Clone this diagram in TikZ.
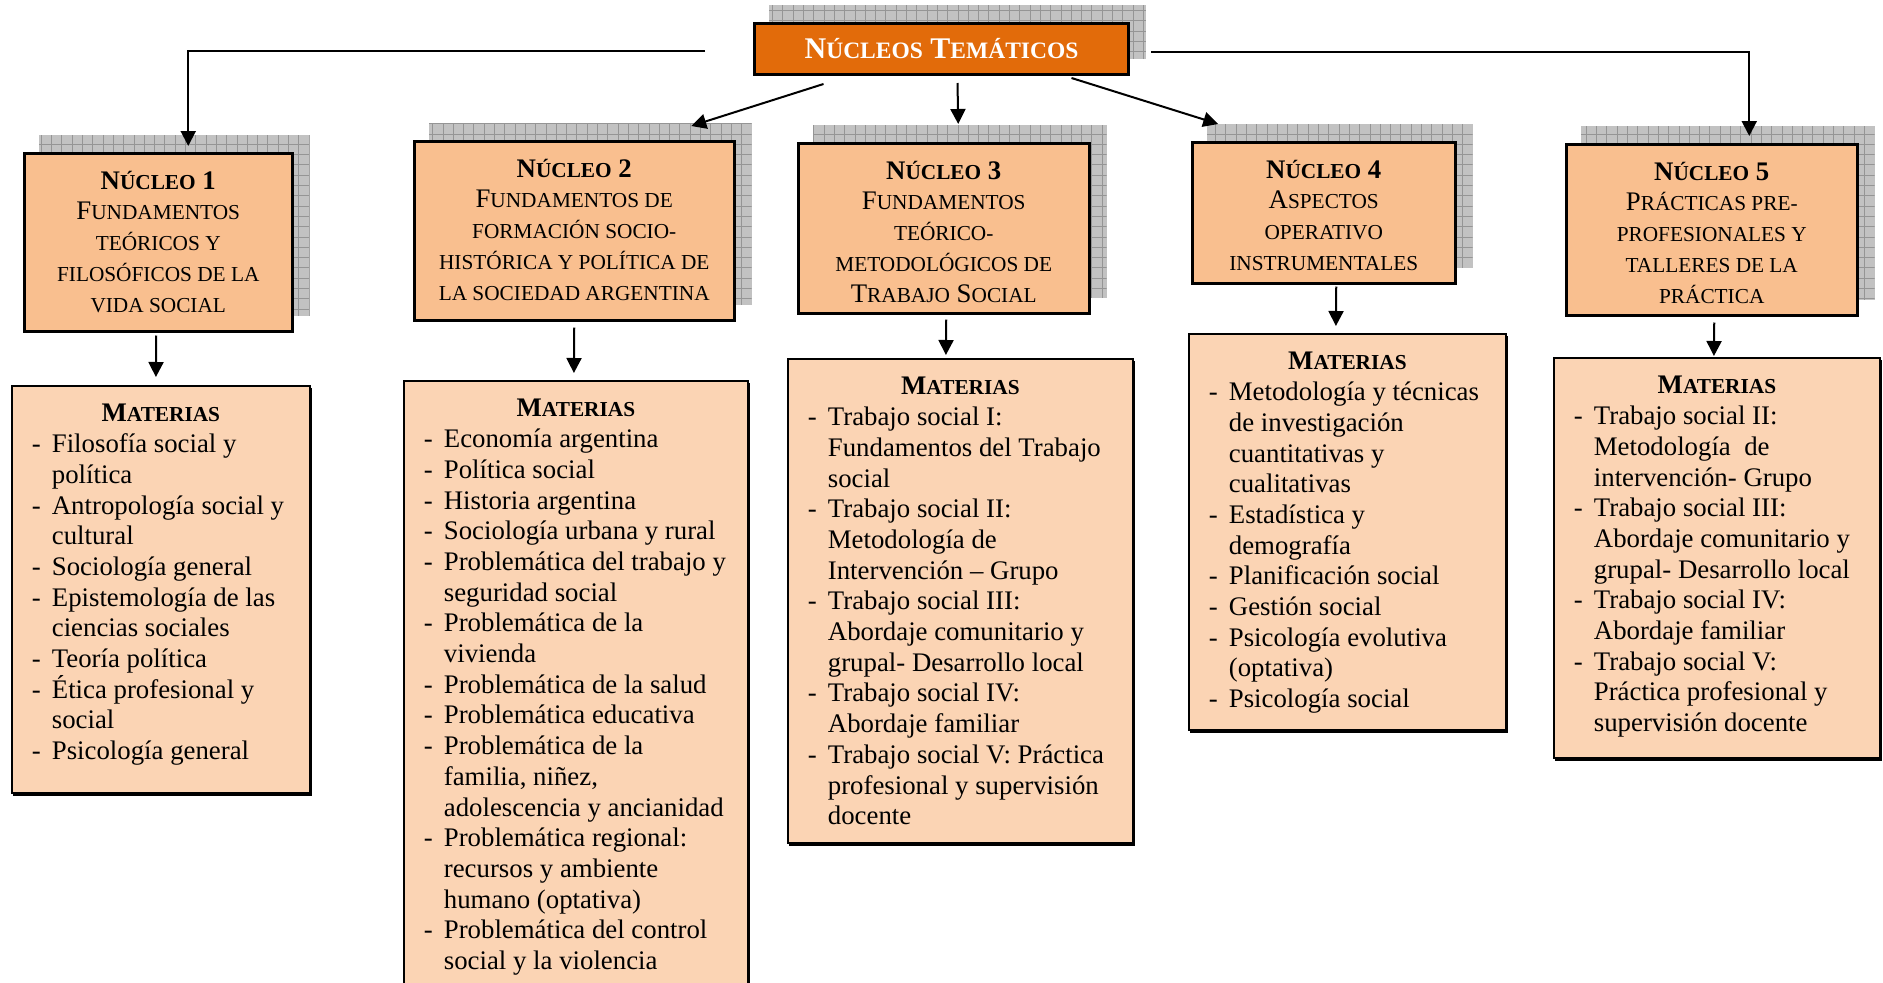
\documentclass[tikz,border=0pt]{standalone}
\usepackage{fontspec}
\setmainfont{Liberation Serif}
\usetikzlibrary{arrows.meta,backgrounds}

\definecolor{topor}{HTML}{E26B0A}
\definecolor{nucfill}{HTML}{F9BF8F}
\definecolor{matfill}{HTML}{FBD4B4}
\definecolor{shfill}{HTML}{C2C2C2}
\definecolor{shline}{HTML}{959595}

% small capitals built from reduced upper-case letters
\newcommand\SC[1]{{\fontsize{21.3}{30.7}\selectfont #1}}
\newcommand\SCt[1]{{\fontsize{23.5}{30}\selectfont #1}}
% list lines: first line of an item (with dash) and continuation lines
\newcommand\li[1]{\hbox to\hsize{\makebox[20pt][l]{-}#1\hss}}
\newcommand\lc[1]{\hbox to\hsize{\hspace*{20pt}#1\hss}}
\newcommand\cl[1]{\hbox to\hsize{\hss#1\hss}}
\newcommand\firstline{\rule{0pt}{36pt}}

% hatched grey shadow behind a box, offset up and to the right
\newcommand\gridshadow[1]{%
  \fill[shfill] ([shift={(16,-17)}]#1.south west) rectangle ([shift={(16,-17)}]#1.north east);
  \begin{scope}
    \clip ([shift={(16,-17)}]#1.south west) rectangle ([shift={(16,-17)}]#1.north east);
    \draw[shline, line width=0.7pt, step=10.3pt] ([shift={(16,-17)}]#1.south west) grid ([shift={(16,-17)}]#1.north east);
  \end{scope}}
\newcommand\dropshadow[1]{%
  \fill[black] ([shift={(1.5,2.5)}]#1.north west) rectangle ([shift={(1.5,2.5)}]#1.south east);}

\begin{document}
\begin{tikzpicture}[x=1pt,y=-1pt,
  every node/.style={font=\fontsize{26.8}{30.7}\selectfont},
  topbox/.style={draw=black, line width=3pt, fill=topor, text=white, inner sep=0pt,
                 minimum width=374pt, minimum height=51pt, font=\fontsize{30}{34}\selectfont\bfseries},
  nuc/.style={draw=black, line width=2.5pt, fill=nucfill, inner xsep=5pt, inner ysep=0pt, anchor=north west},
  mat/.style={draw=black, line width=1.8pt, fill=matfill, inner xsep=20pt, inner ysep=0pt, anchor=north west},
  arr/.style={line width=2pt, -{Triangle[width=15pt,length=15pt]}},
  link/.style={line width=2pt}]
\useasboundingbox (0,0) rectangle (1883,983);
\clip (0,0) rectangle (1883,983);

% title
\node[topbox, anchor=north west] (top) at (753,22) {N\SCt{ÚCLEOS} T\SCt{EMÁTICOS}};

% the five thematic cores
\node[nuc] (n1) at (23,152) {\parbox[c][178pt][t]{258pt}{%
  \cl{\firstline\textbf{N\SC{ÚCLEO} 1}}
  \cl{F\SC{UNDAMENTOS}}
  \cl{\SC{TEÓRICOS Y}}
  \cl{\SC{FILOSÓFICOS DE LA}}
  \cl{\SC{VIDA SOCIAL}}}};
\node[nuc] (n2) at (413,140) {\parbox[c][179pt][t]{310pt}{%
  \cl{\firstline\textbf{N\SC{ÚCLEO} 2}}
  \cl{F\SC{UNDAMENTOS DE}}
  \cl{\SC{FORMACIÓN SOCIO-}}
  \cl{\SC{HISTÓRICA Y POLÍTICA DE}}
  \cl{\SC{LA SOCIEDAD ARGENTINA}}}};
\node[nuc] (n3) at (797,142) {\parbox[c][170pt][t]{281pt}{%
  \cl{\firstline\textbf{N\SC{ÚCLEO} 3}}
  \cl{F\SC{UNDAMENTOS}}
  \cl{\SC{TEÓRICO-}}
  \cl{\SC{METODOLÓGICOS DE}}
  \cl{T\SC{RABAJO} S\SC{OCIAL}}}};
\node[nuc] (n4) at (1191,141) {\parbox[c][141pt][t]{253pt}{%
  \cl{\firstline\textbf{N\SC{ÚCLEO} 4}}
  \cl{A\SC{SPECTOS}}
  \cl{\SC{OPERATIVO}}
  \cl{\SC{INSTRUMENTALES}}}};
\node[nuc] (n5) at (1565,143) {\parbox[c][171pt][t]{281pt}{%
  \cl{\firstline\textbf{N\SC{ÚCLEO} 5}}
  \cl{P\SC{RÁCTICAS PRE-}}
  \cl{\SC{PROFESIONALES Y}}
  \cl{\SC{TALLERES DE LA}}
  \cl{\SC{PRÁCTICA}}}};

% subject lists
\node[mat] (m1) at (11,385) {\parbox[c][407pt][t]{258pt}{%
  \cl{\firstline\textbf{M\SC{ATERIAS}}}
  \li{Filosofía social y}
  \lc{política}
  \li{Antropología social y}
  \lc{cultural}
  \li{Sociología general}
  \li{Epistemología de las}
  \lc{ciencias sociales}
  \li{Teoría política}
  \li{Ética profesional y}
  \lc{social}
  \li{Psicología general}}};
\node[mat] (m2) at (403,380) {\parbox[c][650pt][t]{304pt}{%
  \cl{\firstline\textbf{M\SC{ATERIAS}}}
  \li{Economía argentina}
  \li{Política social}
  \li{Historia argentina}
  \li{Sociología urbana y rural}
  \li{Problemática del trabajo y}
  \lc{seguridad social}
  \li{Problemática de la}
  \lc{vivienda}
  \li{Problemática de la salud}
  \li{Problemática educativa}
  \li{Problemática de la}
  \lc{familia, niñez,}
  \lc{adolescencia y ancianidad}
  \li{Problemática regional:}
  \lc{recursos y ambiente}
  \lc{humano (optativa)}
  \li{Problemática del control}
  \lc{social y la violencia}}};
\node[mat] (m3) at (787,358) {\parbox[c][484pt][t]{305pt}{%
  \cl{\firstline\textbf{M\SC{ATERIAS}}}
  \li{Trabajo social I:}
  \lc{Fundamentos del Trabajo}
  \lc{social}
  \li{Trabajo social II:}
  \lc{Metodología de}
  \lc{Intervención – Grupo}
  \li{Trabajo social III:}
  \lc{Abordaje comunitario y}
  \lc{grupal- Desarrollo local}
  \li{Trabajo social IV:}
  \lc{Abordaje familiar}
  \li{Trabajo social V: Práctica}
  \lc{profesional y supervisión}
  \lc{docente}}};
\node[mat] (m4) at (1188,333) {\parbox[c][396pt][t]{277pt}{%
  \cl{\firstline\textbf{M\SC{ATERIAS}}}
  \li{Metodología y técnicas}
  \lc{de investigación}
  \lc{cuantitativas y}
  \lc{cualitativas}
  \li{Estadística y}
  \lc{demografía}
  \li{Planificación social}
  \li{Gestión social}
  \li{Psicología evolutiva}
  \lc{(optativa)}
  \li{Psicología social}}};
\node[mat] (m5) at (1553,357) {\parbox[c][400pt][t]{286pt}{%
  \cl{\firstline\textbf{M\SC{ATERIAS}}}
  \li{Trabajo social II:}
  \lc{Metodología\ \ de}
  \lc{intervención- Grupo}
  \li{Trabajo social III:}
  \lc{Abordaje comunitario y}
  \lc{grupal- Desarrollo local}
  \li{Trabajo social IV:}
  \lc{Abordaje familiar}
  \li{Trabajo social V:}
  \lc{Práctica profesional y}
  \lc{supervisión docente}}};

% shadows behind the boxes
\begin{scope}[on background layer]
  \gridshadow{top}
  \gridshadow{n1}
  \gridshadow{n2}
  \gridshadow{n3}
  \gridshadow{n4}
  \gridshadow{n5}
  \dropshadow{m1}
  \dropshadow{m2}
  \dropshadow{m3}
  \dropshadow{m4}
  \dropshadow{m5}
\end{scope}

% connectors from the title
\coordinate (lstart) at ([shift={(-48,1.5)}]top.west);
\coordinate (rstart) at ([shift={(21,2.5)}]top.east);
\draw[arr] (lstart) -| ([shift={(30,-6)}]n1.north);
\draw[arr] (rstart) -| ([shift={(37.5,-7)}]n5.north);
\draw[arr] ([shift={(-118,8)}]top.south) -- ([shift={(117,-14)}]n2.north);
\draw[arr] ([shift={(16,7)}]top.south) -- ([shift={(14.5,-18)}]n3.north);
\draw[arr] ([shift={(130,2)}]top.south) -- ([shift={(-105.5,-17)}]n4.north);

% connectors from each core to its subjects
\draw[arr] ([shift={(-2,3)}]n1.south) -- ([shift={(-5,-8)}]m1.north);
\draw[arr] ([shift={(0,6)}]n2.south) -- ([shift={(-2,-7)}]m2.north);
\draw[arr] ([shift={(2.5,5)}]n3.south) -- ([shift={(-14.5,-3)}]m3.north);
\draw[arr] ([shift={(12.5,2)}]n4.south) -- ([shift={(-11.5,-7)}]m4.north);
\draw[arr] ([shift={(2.5,6)}]n5.south) -- ([shift={(-3,-1)}]m5.north);
\end{tikzpicture}
\end{document}
